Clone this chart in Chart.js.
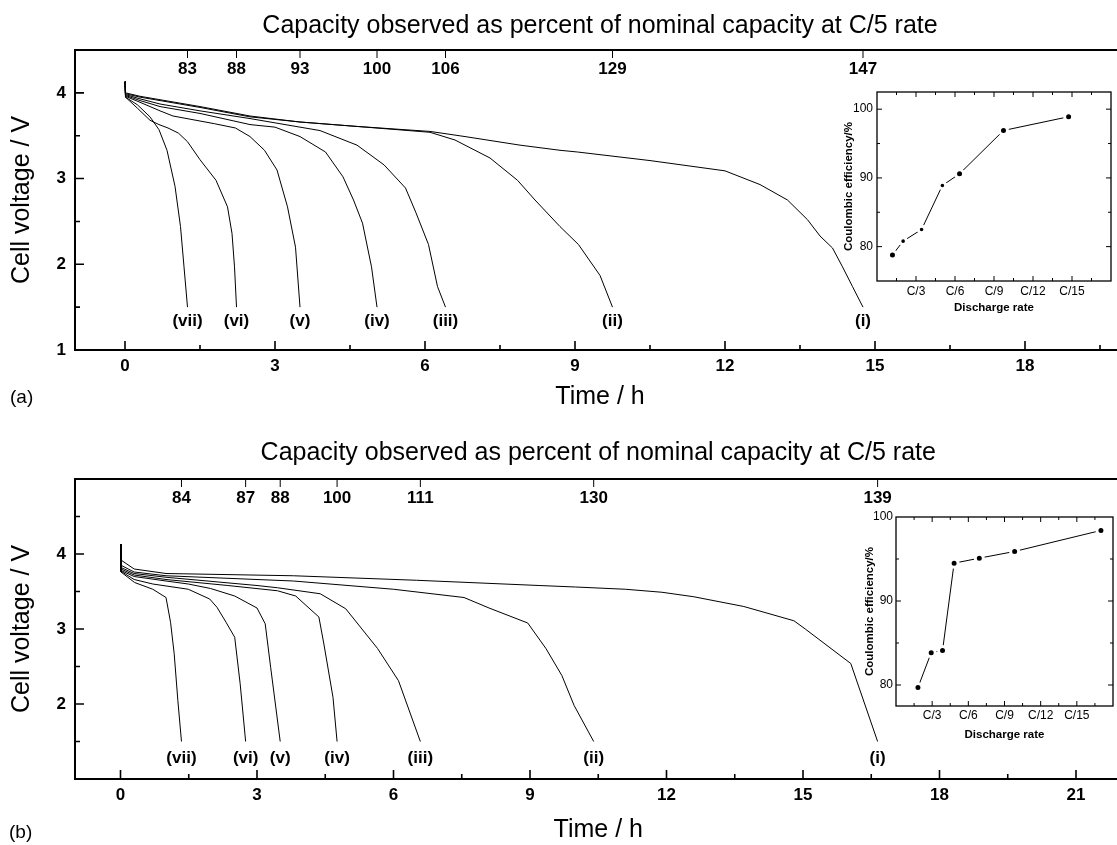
<!DOCTYPE html>
<html><head><meta charset="utf-8">
<script src="https://cdn.jsdelivr.net/npm/chart.js@4.4.1/dist/chart.umd.min.js"></script>
<style>
html,body{margin:0;padding:0;background:#fff;}
body{width:1117px;height:845px;overflow:hidden;position:relative;font-family:'Liberation Sans',Arial,sans-serif;}
canvas{position:absolute;display:block;}
.lbl{position:absolute;font-size:19px;line-height:22px;color:#000;}
</style></head><body>
<canvas id="mainA" width="1140" height="415" style="left:0;top:0"></canvas>
<canvas id="mainB" width="1140" height="420" style="left:0;top:425px"></canvas>
<canvas id="insetA" width="298" height="240" style="left:820px;top:80px"></canvas>
<canvas id="insetB" width="280" height="250" style="left:840px;top:505px"></canvas>
<div class="lbl" style="left:10px;top:386px">(a)</div>
<div class="lbl" style="left:9px;top:821px">(b)</div>
<script>
// ---------- Panel (a): discharge curves, time (h) and cell voltage (V) ----------
const tA1 = [0, 0.01, 0.3, 0.7, 1.5, 2.5, 3.5, 4.6, 6.1, 6.8, 7.9, 8.7, 9.05, 10.5, 12.0, 12.7, 13.25, 13.65, 13.9, 14.15, 14.35, 14.55, 14.76];
const vA1 = [4.13, 4.00, 3.96, 3.92, 3.84, 3.73, 3.66, 3.61, 3.55, 3.49, 3.39, 3.33, 3.31, 3.21, 3.09, 2.93, 2.75, 2.52, 2.33, 2.19, 1.97, 1.74, 1.50];
const tA2 = [0, 0.01, 0.3, 0.7, 1.5, 2.5, 3.5, 4.6, 6.1, 6.6, 7.3, 7.85, 8.2, 8.7, 9.07, 9.5, 9.75];
const vA2 = [4.13, 3.99, 3.95, 3.91, 3.83, 3.72, 3.66, 3.61, 3.54, 3.45, 3.24, 2.98, 2.75, 2.44, 2.23, 1.87, 1.50];
const tA3 = [0, 0.01, 0.3, 0.7, 1.5, 2.5, 3.9, 4.64, 5.18, 5.61, 5.82, 6.07, 6.25, 6.41];
const vA3 = [4.13, 3.98, 3.93, 3.87, 3.79, 3.70, 3.56, 3.39, 3.16, 2.89, 2.60, 2.23, 1.74, 1.50];
const tA4 = [0, 0.01, 0.3, 0.7, 1.5, 2.5, 3.0, 3.5, 4.01, 4.36, 4.57, 4.75, 4.93, 5.04];
const vA4 = [4.13, 3.97, 3.91, 3.84, 3.76, 3.63, 3.60, 3.49, 3.31, 3.02, 2.75, 2.48, 1.97, 1.50];
const tA5 = [0, 0.01, 0.3, 0.7, 0.96, 1.79, 2.21, 2.5, 2.79, 3.04, 3.25, 3.41, 3.50];
const vA5 = [4.13, 3.96, 3.89, 3.79, 3.73, 3.64, 3.59, 3.49, 3.33, 3.10, 2.67, 2.20, 1.50];
const tA6 = [0, 0.01, 0.25, 0.5, 0.68, 0.86, 1.07, 1.25, 1.5, 1.82, 2.05, 2.14, 2.19, 2.23];
const vA6 = [4.13, 3.95, 3.82, 3.68, 3.63, 3.59, 3.53, 3.43, 3.22, 2.98, 2.67, 2.36, 1.97, 1.50];
const tA7 = [0, 0.01, 0.25, 0.5, 0.68, 0.84, 1.0, 1.11, 1.18, 1.25];
const vA7 = [4.13, 3.95, 3.86, 3.72, 3.57, 3.33, 2.91, 2.44, 1.97, 1.50];

// ---------- Panel (b) ----------
const tB1 = [0, 0.01, 0.3, 1.0, 3.8, 6.5, 9.2, 10.0, 11.1, 11.9, 12.6, 13.7, 14.8, 15.05, 16.05, 16.64];
const vB1 = [4.13, 3.92, 3.80, 3.74, 3.71, 3.65, 3.58, 3.56, 3.53, 3.49, 3.43, 3.30, 3.11, 3.00, 2.54, 1.50];
const tB2 = [0, 0.01, 0.3, 1.0, 3.8, 6.0, 7.55, 8.1, 8.95, 9.35, 9.7, 9.97, 10.4];
const vB2 = [4.13, 3.85, 3.76, 3.71, 3.64, 3.53, 3.42, 3.28, 3.08, 2.74, 2.38, 1.98, 1.50];
const tB3 = [0, 0.01, 0.3, 1.0, 3.0, 3.45, 4.39, 4.95, 5.65, 6.11, 6.59];
const vB3 = [4.13, 3.82, 3.74, 3.69, 3.58, 3.55, 3.47, 3.27, 2.74, 2.31, 1.50];
const tB4 = [0, 0.01, 0.3, 1.0, 2.36, 3.45, 3.85, 4.36, 4.47, 4.67, 4.76];
const vB4 = [4.13, 3.80, 3.72, 3.66, 3.58, 3.51, 3.44, 3.16, 2.80, 2.09, 1.50];
const tB5 = [0, 0.01, 0.3, 1.0, 1.49, 1.98, 2.51, 3.0, 3.18, 3.3, 3.51];
const vB5 = [4.13, 3.78, 3.70, 3.64, 3.60, 3.54, 3.44, 3.28, 3.07, 2.49, 1.50];
const tB6 = [0, 0.01, 0.3, 0.71, 1.49, 1.96, 2.12, 2.32, 2.51, 2.63, 2.75];
const vB6 = [4.13, 3.77, 3.66, 3.60, 3.53, 3.40, 3.29, 3.09, 2.89, 2.27, 1.50];
const tB7 = [0, 0.01, 0.31, 0.71, 1.0, 1.1, 1.18, 1.26, 1.34];
const vB7 = [4.13, 3.76, 3.62, 3.53, 3.42, 3.09, 2.67, 2.05, 1.50];

// ---------- labels ----------
const curveNames = ['(i)', '(ii)', '(iii)', '(iv)', '(v)', '(vi)', '(vii)'];
const capA = ['147', '129', '106', '100', '93', '88', '83'];
const capB = ['139', '130', '111', '100', '88', '87', '84'];
const titleText = 'Capacity observed as percent of nominal capacity at C/5 rate';
const xTicksA = [0, 3, 6, 9, 12, 15, 18];
const xTicksB = [0, 3, 6, 9, 12, 15, 18, 21];
const yTicksA = [1, 2, 3, 4];
const yTicksB = [2, 3, 4];

// ---------- insets: coulombic efficiency vs discharge rate ----------
const rateA = [1.19, 2.01, 3.43, 5.03, 6.35, 9.73, 14.74];
const ceA = [78.8, 80.8, 82.5, 88.9, 90.6, 96.9, 98.9];
const rateB = [1.82, 2.92, 3.86, 4.82, 6.91, 9.84, 17.0];
const ceB = [79.7, 83.85, 84.1, 94.5, 95.1, 95.9, 98.4];
const rateTickValues = [3, 6, 9, 12, 15];
const rateTickLabels = ['C/3', 'C/6', 'C/9', 'C/12', 'C/15'];
const ceTicks = [80, 90, 100];

Chart.defaults.font.family = "'Liberation Sans', Arial, sans-serif";
Chart.defaults.color = '#000';

function stepsIn(min, max, step) {
  const out = [];
  for (let k = Math.ceil(min / step - 1e-9); k * step <= max + 1e-9; k++) out.push(+(k * step).toFixed(6));
  return out;
}
function isMult(v, step) { return Math.abs(v / step - Math.round(v / step)) < 1e-6; }

const deco = {
  id: 'deco',
  afterDatasetsDraw(chart, args, o) {
    const { ctx, chartArea: a } = chart;
    const xs = chart.scales.x, ys = chart.scales.y;
    ctx.save();
    ctx.strokeStyle = '#000';
    ctx.fillStyle = '#000';
    ctx.lineWidth = o.tickWidth;
    ctx.beginPath();
    for (const v of stepsIn(xs.min, xs.max, o.xMinor)) {
      const px = xs.getPixelForValue(v);
      if (px <= a.left + 1 || px >= a.right - 1) continue;
      const len = isMult(v, o.xMajor) ? o.majorLen : o.minorLen;
      ctx.moveTo(px, a.bottom); ctx.lineTo(px, a.bottom - len * o.dirBottom);
      if (o.mirror) { ctx.moveTo(px, a.top); ctx.lineTo(px, a.top + len * o.dirTop); }
    }
    for (const v of stepsIn(ys.min, ys.max, o.yMinor)) {
      const py = ys.getPixelForValue(v);
      if (py <= a.top + 1 || py >= a.bottom - 1) continue;
      const len = isMult(v, o.yMajor) ? o.majorLen : o.minorLen;
      ctx.moveTo(a.left, py); ctx.lineTo(a.left + len * o.dirLeft, py);
      if (o.mirror) { ctx.moveTo(a.right, py); ctx.lineTo(a.right - len * o.dirRight, py); }
    }
    ctx.stroke();
    ctx.lineWidth = o.frameWidth;
    ctx.strokeRect(a.left, a.top, a.right - a.left, a.bottom - a.top);
    if (o.capLabels) {
      ctx.font = 'bold 17px "Liberation Sans", Arial, sans-serif';
      ctx.textAlign = 'center';
      ctx.textBaseline = 'middle';
      chart.data.datasets.forEach((ds, i) => {
        const last = ds.data[ds.data.length - 1];
        const px = xs.getPixelForValue(last.x);
        ctx.lineWidth = 1;
        ctx.beginPath(); ctx.moveTo(px, a.top); ctx.lineTo(px, a.top + 8); ctx.stroke();
        ctx.fillText(o.capLabels[i], px, a.top + 19);
        ctx.fillText(o.curveLabels[i], px, ys.getPixelForValue(o.labelV));
      });
    }
    ctx.restore();
  }
};

function makeSeries(ts, vs) { return ts.map((t, i) => ({ x: t, y: vs[i] })); }

function mainChart(id, curves, cfg) {
  return new Chart(document.getElementById(id), {
    type: 'line',
    data: {
      datasets: curves.map((c, i) => ({
        label: curveNames[i], data: makeSeries(c[0], c[1]),
        borderColor: '#000', borderWidth: 1, pointRadius: 0, tension: 0, fill: false
      }))
    },
    options: {
      responsive: false, animation: false, devicePixelRatio: 1,
      layout: { padding: { left: 0, right: cfg.padRight, top: 0, bottom: 0 } },
      plugins: {
        legend: { display: false }, tooltip: { enabled: false },
        title: { display: true, text: titleText, fullSize: false, color: '#000',
          font: { size: 25, weight: 'normal' }, padding: cfg.titlePad },
        deco: { tickWidth: 1.6, majorLen: 9, minorLen: 5, frameWidth: 2,
          xMajor: 3, xMinor: 1.5, yMajor: 1, yMinor: 0.5, mirror: false,
          dirBottom: 1, dirLeft: 1, dirTop: 1, dirRight: 1,
          capLabels: cfg.caps, curveLabels: curveNames, labelV: cfg.labelV }
      },
      scales: {
        x: {
          type: 'linear', min: cfg.xMin, max: cfg.xMax,
          grid: { display: false, drawTicks: false }, border: { display: false },
          afterBuildTicks: s => { s.ticks = cfg.xTicks.map(v => ({ value: v })); },
          afterFit: s => { s.height = cfg.xHeight; },
          ticks: { font: { size: 17, weight: 'bold' }, color: '#000', padding: 6, maxRotation: 0, autoSkip: false },
          title: { display: true, text: 'Time / h', color: '#000', font: { size: 25 }, padding: { top: 0, bottom: cfg.xTitlePad } }
        },
        y: {
          type: 'linear', min: cfg.yMin, max: cfg.yMax,
          grid: { display: false, drawTicks: false }, border: { display: false },
          afterBuildTicks: s => { s.ticks = cfg.yTicks.map(v => ({ value: v })); },
          afterFit: s => { s.width = 75; },
          ticks: { font: { size: 17, weight: 'bold' }, color: '#000', padding: 9 },
          title: { display: true, text: 'Cell voltage / V', color: '#000', font: { size: 25 }, padding: { top: 7, bottom: 0 } }
        }
      }
    },
    plugins: [deco]
  });
}

mainChart('mainA', [[tA1, vA1], [tA2, vA2], [tA3, vA3], [tA4, vA4], [tA5, vA5], [tA6, vA6], [tA7, vA7]], {
  xMin: -1, xMax: 20, yMin: 1, yMax: 4.5, xTicks: xTicksA, yTicks: yTicksA,
  padRight: 15, titlePad: { top: 11, bottom: 9 }, xHeight: 65, xTitlePad: 3,
  caps: capA, labelV: 1.33
});
mainChart('mainB', [[tB1, vB1], [tB2, vB2], [tB3, vB3], [tB4, vB4], [tB5, vB5], [tB6, vB6], [tB7, vB7]], {
  xMin: -1, xMax: 22, yMin: 1, yMax: 5, xTicks: xTicksB, yTicks: yTicksB,
  padRight: 18.5, titlePad: { top: 13, bottom: 11 }, xHeight: 66, xTitlePad: 0,
  caps: capB, labelV: 1.28
});

function insetChart(id, xs, ys, cfg) {
  return new Chart(document.getElementById(id), {
    type: 'line',
    data: {
      datasets: [{
        data: makeSeries(xs, ys), borderColor: '#000', borderWidth: 1, tension: 0,
        pointRadius: cfg.radii, pointBackgroundColor: '#000', pointBorderColor: '#fff', pointBorderWidth: 3
      }]
    },
    options: {
      responsive: false, animation: false, devicePixelRatio: 1,
      layout: { padding: { left: 0, right: cfg.padRight, top: 12, bottom: 0 } },
      plugins: {
        legend: { display: false }, tooltip: { enabled: false },
        deco: { tickWidth: 1, majorLen: 5, minorLen: 3, frameWidth: 1.3,
          xMajor: 3, xMinor: 1.5, yMajor: 10, yMinor: 5, mirror: true,
          dirBottom: 1, dirLeft: 1, dirTop: 1, dirRight: 1 }
      },
      scales: {
        x: {
          type: 'linear', min: 0, max: 18,
          grid: { display: false, drawTicks: false }, border: { display: false },
          afterBuildTicks: s => { s.ticks = rateTickValues.map(v => ({ value: v })); },
          afterFit: s => { s.height = cfg.xHeight; },
          ticks: { font: { size: 12 }, color: '#000', padding: cfg.xTickPad, maxRotation: 0, autoSkip: false,
            callback: v => rateTickLabels[rateTickValues.indexOf(v)] },
          title: { display: true, text: 'Discharge rate', color: '#000', font: { size: 11.5, weight: 'bold' },
            padding: { top: 0, bottom: cfg.xTitlePad } }
        },
        y: {
          type: 'linear', min: cfg.yMin, max: cfg.yMax,
          grid: { display: false, drawTicks: false }, border: { display: false },
          afterBuildTicks: s => { s.ticks = ceTicks.map(v => ({ value: v })); },
          afterFit: s => { s.width = cfg.yWidth; },
          ticks: { font: { size: 12 }, color: '#000', padding: cfg.yTickPad },
          title: { display: true, text: 'Coulombic efficiency/%', color: '#000', font: { size: 11.5, weight: 'bold' },
            padding: { top: cfg.yTitlePad, bottom: 0 } }
        }
      }
    },
    plugins: [deco]
  });
}

insetChart('insetA', rateA, ceA, {
  yMin: 75, yMax: 102.5, radii: [4, 3.3, 3.3, 3.3, 4, 4, 4], padRight: 6,
  xHeight: 39, xTickPad: 3, xTitlePad: 5, yWidth: 57, yTickPad: 4, yTitlePad: 22
});
insetChart('insetB', rateB, ceB, {
  yMin: 77.5, yMax: 100, radii: [4, 4, 4, 4, 4, 4, 4], padRight: 4,
  xHeight: 49, xTickPad: 2, xTitlePad: 13, yWidth: 56, yTickPad: 3, yTitlePad: 23
});
</script>
</body></html>
